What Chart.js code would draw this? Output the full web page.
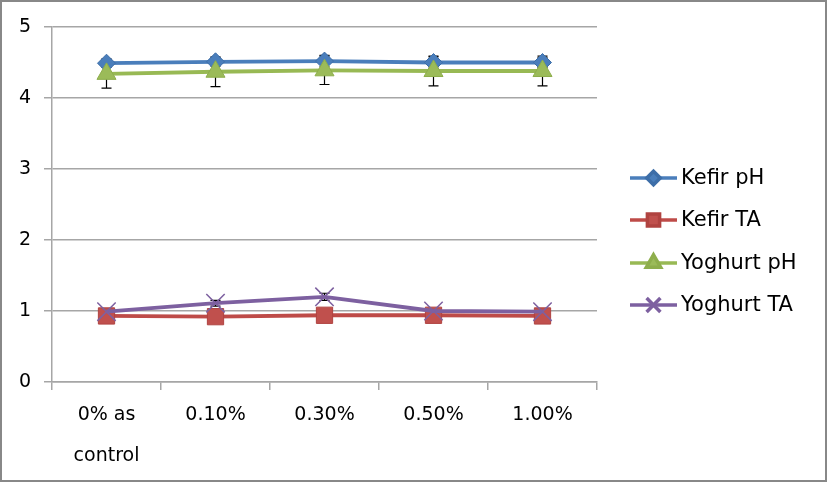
<!DOCTYPE html>
<html>
<head>
<meta charset="utf-8">
<script src="https://cdn.jsdelivr.net/npm/chart.js@4"></script>
<style>
html,body{margin:0;padding:0;background:#fff;}
canvas{display:block;}
</style>
</head>
<body>
<canvas id="c" width="827" height="482"></canvas>
<script>
const categories = [["0% as", "control"], "0.10%", "0.30%", "0.50%", "1.00%"];
const seriesNames = ["Kefir pH", "Kefir TA", "Yoghurt pH", "Yoghurt TA"];
const kefirPH   = [4.49, 4.51, 4.52, 4.50, 4.50];
const kefirTA   = [0.93, 0.92, 0.94, 0.94, 0.93];
const yoghurtPH = [4.34, 4.37, 4.39, 4.38, 4.38];
const yoghurtTA = [0.99, 1.11, 1.20, 1.00, 0.99];
const kefirPHErr   = [0.06, 0.06, 0.08, 0.08, 0.07];
const kefirTAErr   = [0.03, 0.03, 0.03, 0.03, 0.03];
const yoghurtPHErr = [0.20, 0.21, 0.20, 0.21, 0.21];
const yoghurtTAErr = [0.03, 0.04, 0.05, 0.03, 0.03];
const yMin = 0, yMax = 5, yStep = 1;

const FONT = "'DejaVu Sans', sans-serif";
const GRID = '#a6a6a6';

const errorBars = {
  id: 'errorBars',
  beforeDatasetsDraw(chart) {
    const ctx = chart.ctx;
    const ys = chart.scales.y, xs = chart.scales.x;
    ctx.save();
    ctx.strokeStyle = '#000';
    ctx.lineWidth = 1.2;
    chart.data.datasets.forEach(ds => {
      const err = ds.errors;
      if (!err) return;
      ds.data.forEach((v, i) => {
        const x = xs.getPixelForValue(i);
        const y1 = ys.getPixelForValue(v - err[i]);
        const y2 = ys.getPixelForValue(v + err[i]);
        ctx.beginPath();
        ctx.moveTo(x, y1); ctx.lineTo(x, y2);
        ctx.moveTo(x - 5, y1); ctx.lineTo(x + 5, y1);
        ctx.moveTo(x - 5, y2); ctx.lineTo(x + 5, y2);
        ctx.stroke();
      });
    });
    ctx.restore();
  }
};

const customLegend = {
  id: 'customLegend',
  afterDraw(chart) {
    const ctx = chart.ctx;
    const rows = [178, 220, 263, 305];
    ctx.save();
    chart.data.datasets.forEach((ds, i) => {
      const y = rows[i];
      ctx.strokeStyle = ds.borderColor;
      ctx.lineWidth = 3.5;
      ctx.beginPath();
      ctx.moveTo(630, y); ctx.lineTo(677, y);
      ctx.stroke();
      ctx.fillStyle = ds.pointBackgroundColor;
      ctx.strokeStyle = ds.pointBorderColor;
      Chart.helpers.drawPoint(ctx, {
        pointStyle: ds.pointStyle,
        radius: ds.pointRadius * 0.75,
        rotation: 0,
        borderWidth: ds.pointBorderWidth
      }, 653.5, y);
      ctx.fillStyle = '#000';
      ctx.font = '21px ' + FONT;
      ctx.textAlign = 'left';
      ctx.textBaseline = 'middle';
      ctx.fillText(seriesNames[i], 681, y + 1);
    });
    // outer border
    ctx.strokeStyle = '#888';
    ctx.lineWidth = 2;
    ctx.strokeRect(1, 1, 825, 480);
    ctx.restore();
  }
};

function ds(label, data, errs, color, ptColor, ptBorder, style, r, bw, order) {
  return {
    label, data, errors: errs,
    borderColor: color, borderWidth: 3.8,
    pointStyle: style, pointRadius: r, pointHoverRadius: r,
    pointBackgroundColor: ptColor, pointBorderColor: ptBorder,
    pointBorderWidth: bw, tension: 0, order
  };
}

new Chart(document.getElementById('c'), {
  type: 'line',
  data: {
    labels: categories,
    datasets: [
      ds(seriesNames[0], kefirPH, kefirPHErr, '#4a7ebb', '#4a7ebb', '#3d6ea8', 'rectRot', 9, 1, 4),
      ds(seriesNames[1], kefirTA, kefirTAErr, '#be4b48', '#c0504d', '#b04340', 'rect', 11.5, 1, 3),
      ds(seriesNames[2], yoghurtPH, yoghurtPHErr, '#98b954', '#9bbb59', '#8eae4c', 'triangle', 11, 1, 2),
      ds(seriesNames[3], yoghurtTA, yoghurtTAErr, '#7d60a0', '#7d60a0', '#7d60a0', 'crossRot', 13, 1.5, 1)
    ]
  },
  options: {
    responsive: false,
    animation: false,
    devicePixelRatio: 1,
    layout: { padding: { left: 0, right: 230, top: 27, bottom: 0 } },
    plugins: { legend: { display: false }, tooltip: { enabled: false } },
    scales: {
      x: {
        offset: true,
        grid: { drawOnChartArea: false, drawTicks: true, tickLength: 8, offset: true, color: GRID, lineWidth: 1.5 },
        border: { display: true, color: GRID, width: 1.5 },
        ticks: { color: '#000', font: { family: FONT, size: 19, lineHeight: 2.15 }, padding: 5, maxRotation: 0, autoSkip: false },
        afterFit(s) { s.height = 100; }
      },
      y: {
        min: yMin, max: yMax,
        grid: { color: GRID, lineWidth: 1.5, tickLength: 8 },
        border: { display: true, color: GRID, width: 1.5 },
        ticks: { stepSize: yStep, color: '#000', font: { family: FONT, size: 19 }, padding: 13 },
        afterFit(s) { s.width = 52; }
      }
    }
  },
  plugins: [errorBars, customLegend]
});
</script>
</body>
</html>
